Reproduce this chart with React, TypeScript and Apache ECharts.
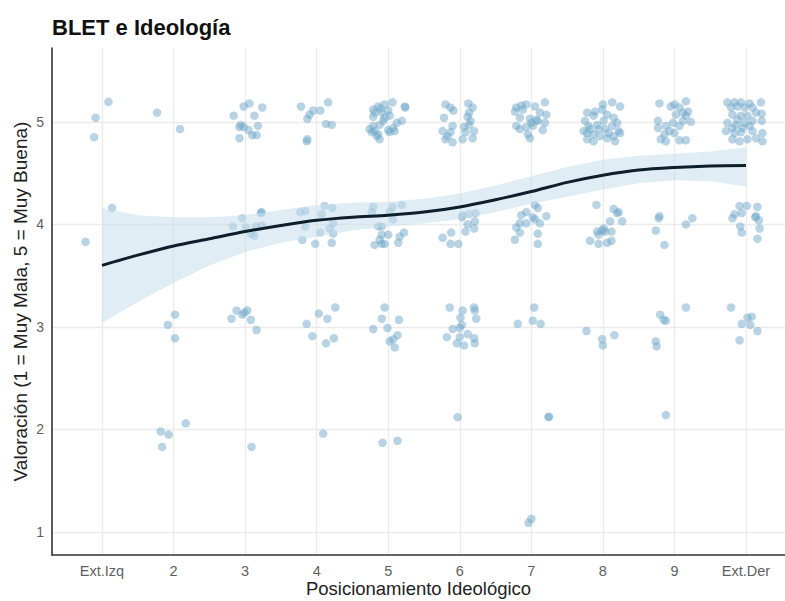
import React, { useEffect, useRef } from "react";
import * as echarts from "echarts";

const categories = ["Ext.Izq", "2", "3", "4", "5", "6", "7", "8", "9", "Ext.Der"];
const yTicks = [1, 2, 3, 4, 5];

// Jittered observations per category: [x offset from category, rating]
const ptsExtIzq = [[0.09, 5.195], [-0.09, 5.04], [-0.11, 4.85], [0.14, 4.16], [-0.23, 3.83]];
const pts2 = [[-0.23, 5.09], [0.09, 4.93], [0.02, 3.12], [-0.08, 3.02], [0.02, 2.89], [-0.18, 1.98], [-0.07, 1.95], [0.17, 2.06], [-0.16, 1.83]];
const pts3 = [[0.06, 5.18], [-0.02, 5.15], [0.24, 5.14], [-0.16, 5.06], [0.13, 5.06], [-0.06, 4.97], [-0.08, 4.95], [0.18, 4.96], [-0.02, 4.95], [0.05, 4.92], [0.1, 4.87], [0.16, 4.87], [-0.08, 4.84],
  [-0.17, 3.98], [-0.04, 4.06], [0.01, 3.97], [0.15, 3.98], [0.23, 3.99], [0.23, 4.12], [0.22, 4.11], [0.13, 3.89], [0.08, 3.91],
  [-0.12, 3.16], [-0.04, 3.12], [0.03, 3.16], [-0.01, 3.14], [-0.19, 3.08], [0.08, 3.07], [0.16, 2.97], [0.09, 1.83]];
const pts4 = [[-0.22, 5.15], [0.16, 5.19], [-0.05, 5.11], [0.05, 5.11], [-0.1, 5.07], [-0.13, 5.03], [0.13, 4.98], [0.21, 4.97], [-0.13, 4.83], [-0.14, 4.81],
  [-0.23, 4.12], [-0.16, 4.13], [0.11, 4.18], [0.22, 4.16], [0.07, 4.1], [0.23, 4.01], [-0.16, 3.98], [0.18, 3.96], [0.05, 3.92], [0.23, 3.91], [-0.2, 3.85], [-0.02, 3.81], [0.21, 3.82],
  [0.26, 3.19], [0.03, 3.13], [0.15, 3.08], [-0.14, 3.03], [-0.06, 2.91], [0.13, 2.84], [0.24, 2.89], [0.09, 1.96]];
const pts5 = [[0.06, 5.19], [-0.05, 5.17], [-0.14, 5.15], [-0.21, 5.12], [0.23, 5.15], [0.24, 5.14], [0.0, 5.11], [-0.19, 5.09], [-0.09, 5.09], [0.02, 5.06], [-0.21, 5.05], [-0.07, 5.01], [-0.12, 4.97], [0.19, 5.01], [0.12, 4.99], [-0.26, 4.93], [-0.19, 4.91], [-0.23, 4.9], [0.0, 4.92], [0.09, 4.91], [0.02, 4.9], [-0.16, 4.86], [-0.12, 4.83], [-0.14, 4.88], [-0.05, 5.04], [-0.11, 5.13], [0.07, 4.94], [-0.21, 4.96],
  [-0.21, 4.17], [0.06, 4.17], [0.19, 4.19], [-0.23, 4.12], [0.02, 4.12], [-0.14, 3.98], [-0.09, 3.98], [0.07, 4.05], [0.0, 3.9], [-0.09, 3.9], [0.22, 3.92], [0.16, 3.88], [-0.19, 3.8], [-0.09, 3.81], [-0.05, 3.81], [0.14, 3.82], [-0.12, 3.85],
  [-0.05, 3.19], [-0.09, 3.08], [0.15, 3.07], [-0.21, 2.98], [-0.01, 2.99], [0.13, 2.92], [0.07, 2.88], [0.02, 2.86], [0.09, 2.8], [-0.08, 1.87], [0.13, 1.89]];
const pts6 = [[-0.2, 5.17], [-0.13, 5.14], [-0.09, 5.11], [0.12, 5.18], [0.18, 5.14], [0.13, 5.09], [-0.22, 5.04], [0.11, 5.05], [-0.1, 4.96], [0.13, 4.97], [0.06, 4.95], [-0.24, 4.91], [-0.13, 4.9], [0.2, 4.91], [-0.2, 4.83], [-0.1, 4.8], [0.04, 4.83], [0.18, 4.84], [-0.17, 4.86], [0.08, 4.9], [0.15, 5.01],
  [0.04, 4.09], [0.13, 4.1], [0.22, 4.11], [0.11, 4.0], [0.21, 4.03], [0.2, 3.96], [0.08, 3.93], [-0.12, 3.92], [-0.24, 3.87], [-0.13, 3.81], [-0.02, 3.81], [0.03, 4.07],
  [-0.14, 3.19], [0.04, 3.16], [0.2, 3.19], [0.21, 3.16], [0.01, 3.09], [0.23, 3.08], [0.03, 3.02], [-0.1, 2.98], [0.0, 2.99], [-0.18, 2.9], [0.0, 2.9], [0.11, 2.93], [-0.04, 2.84], [0.06, 2.82], [0.2, 2.89], [0.21, 2.84], [-0.03, 2.12]];
const pts7 = [[-0.21, 5.14], [-0.14, 5.16], [-0.07, 5.17], [0.05, 5.15], [0.19, 5.19], [-0.23, 5.1], [0.12, 5.09], [0.21, 5.07], [-0.16, 5.04], [-0.02, 5.03], [0.07, 5.02], [-0.21, 4.96], [-0.07, 4.95], [0.0, 4.99], [0.19, 4.99], [0.16, 4.92], [-0.16, 4.93], [-0.05, 4.88], [-0.02, 4.84], [0.09, 5.01], [-0.12, 5.12], [0.02, 4.96],
  [0.05, 4.19], [-0.07, 4.12], [-0.14, 4.09], [0.09, 4.16], [0.21, 4.08], [-0.16, 4.01], [-0.07, 4.01], [0.05, 4.05], [0.12, 4.01], [-0.21, 3.97], [-0.16, 3.92], [-0.23, 3.85], [0.09, 3.91], [0.09, 3.81], [0.02, 4.07],
  [0.04, 3.19], [-0.19, 3.03], [0.02, 3.06], [0.13, 3.03], [0.24, 2.12], [0.245, 2.125], [-0.04, 1.09], [0.0, 1.13]];
const pts8 = [[-0.22, 5.09], [-0.11, 5.1], [0.0, 5.17], [0.13, 5.19], [0.24, 5.15], [-0.25, 5.01], [-0.13, 5.06], [0.06, 5.07], [0.15, 5.04], [0.2, 4.99], [-0.2, 4.96], [-0.08, 4.97], [0.03, 4.93], [0.13, 4.96], [0.22, 4.91], [-0.22, 4.89], [-0.13, 4.88], [-0.04, 4.86], [0.06, 4.84], [0.17, 4.81], [-0.22, 4.83], [-0.13, 4.81], [0.01, 5.01], [-0.01, 5.12], [0.24, 4.89], [-0.18, 4.93], [0.08, 4.89], [0.15, 4.86], [-0.06, 4.93], [-0.27, 4.91],
  [-0.09, 4.19], [0.15, 4.15], [0.2, 4.11], [0.27, 4.03], [0.1, 4.03], [-0.08, 3.93], [-0.01, 3.94], [0.03, 3.93], [0.12, 3.93], [-0.06, 3.9], [-0.18, 3.84], [-0.06, 3.81], [0.06, 3.82], [0.12, 3.84], [0.01, 3.96], [0.22, 4.12],
  [-0.23, 2.96], [-0.01, 2.88], [0.0, 2.82], [0.16, 2.92]];
const pts9 = [[-0.21, 5.18], [0.0, 5.17], [0.16, 5.2], [0.07, 5.14], [-0.05, 5.15], [0.19, 5.1], [0.02, 5.07], [0.16, 5.06], [-0.23, 5.01], [0.12, 5.01], [0.23, 5.0], [-0.02, 4.99], [-0.23, 4.94], [-0.12, 4.96], [0.07, 4.96], [-0.07, 4.91], [0.0, 4.89], [-0.19, 4.83], [-0.12, 4.81], [0.07, 4.82], [0.16, 4.82], [-0.14, 4.88], [0.12, 5.09],
  [-0.21, 4.08], [-0.22, 4.06], [-0.26, 3.94], [-0.14, 3.8], [0.16, 4.0], [0.25, 4.06],
  [-0.2, 3.12], [-0.15, 3.07], [-0.12, 3.06], [-0.26, 2.86], [-0.25, 2.81], [0.16, 3.19], [-0.12, 2.14]];
const ptsExtDer = [[-0.26, 5.19], [-0.16, 5.19], [-0.07, 5.19], [0.05, 5.18], [0.21, 5.19], [-0.21, 5.14], [-0.12, 5.15], [-0.02, 5.14], [0.09, 5.14], [0.22, 5.08], [-0.19, 5.07], [-0.07, 5.06], [0.02, 5.06], [0.09, 5.01], [0.22, 5.01], [-0.26, 4.99], [-0.14, 4.97], [-0.02, 4.99], [0.05, 4.96], [-0.28, 4.91], [-0.16, 4.89], [-0.07, 4.9], [0.09, 4.91], [0.23, 4.89], [-0.19, 4.83], [-0.09, 4.81], [0.02, 4.83], [0.14, 4.84], [0.23, 4.81], [-0.12, 5.02], [0.14, 5.09], [-0.05, 4.94], [-0.19, 4.94],
  [-0.09, 4.18], [0.01, 4.18], [0.16, 4.17], [-0.16, 4.1], [-0.06, 4.11], [-0.19, 4.06], [0.14, 4.08], [0.18, 4.04], [-0.08, 3.98], [-0.06, 3.92], [0.19, 3.96], [0.16, 3.86], [0.13, 4.07],
  [-0.21, 3.19], [0.02, 3.09], [0.08, 3.1], [-0.06, 3.03], [0.06, 3.02], [0.16, 2.96], [-0.09, 2.87]];
const pointsByCategory = [ptsExtIzq, pts2, pts3, pts4, pts5, pts6, pts7, pts8, pts9, ptsExtDer];

// LOESS fit with confidence band
const smoothX = [1, 1.5, 2, 2.5, 3, 3.5, 4, 4.5, 5, 5.5, 6, 6.5, 7, 7.5, 8, 8.5, 9, 9.5, 10];
const smoothFit = [3.6, 3.7, 3.79, 3.86, 3.93, 3.99, 4.04, 4.07, 4.09, 4.12, 4.17, 4.24, 4.32, 4.41, 4.48, 4.53, 4.555, 4.57, 4.575];
const smoothUpper = [4.16, 4.09, 4.07, 4.07, 4.09, 4.14, 4.19, 4.21, 4.22, 4.25, 4.3, 4.38, 4.47, 4.56, 4.63, 4.67, 4.69, 4.71, 4.75];
const smoothLower = [3.04, 3.24, 3.43, 3.6, 3.73, 3.82, 3.88, 3.94, 3.98, 4.01, 4.05, 4.12, 4.2, 4.27, 4.34, 4.4, 4.43, 4.42, 4.37];

const FONT = "'Liberation Sans', Arial, Helvetica, sans-serif";

export default function App() {
  const ref = useRef<HTMLDivElement>(null);
  useEffect(() => {
    if (!ref.current) return;
    const chart = echarts.init(ref.current, undefined, { renderer: "svg" });
    const scatterData: number[][] = [];
    pointsByCategory.forEach((pts, i) => {
      pts.forEach(([dx, y]) => scatterData.push([i + 1 + dx, y]));
    });
    const fitData = smoothX.map((x, i) => [x, smoothFit[i]]);
    const xTickVals = categories.map((_, i) => i + 1);

    chart.setOption({
      animation: false,
      backgroundColor: "#ffffff",
      textStyle: { fontFamily: FONT },
      title: {
        text: "BLET e Ideología",
        left: 47,
        top: 11,
        textStyle: { fontSize: 22, fontWeight: "bold", color: "#111111", fontFamily: FONT },
      },
      grid: { left: 52, right: 0, top: 48, bottom: 46, containLabel: false, outerBoundsMode: "none" },
      xAxis: {
        type: "value",
        min: 0.301,
        max: 10.545,
        name: "Posicionamiento Ideológico",
        nameLocation: "middle",
        nameGap: 24,
        nameMoveOverlap: false,
        nameTextStyle: { fontSize: 18.5, color: "#222222", fontFamily: FONT },
        axisLine: { show: true, onZero: false, lineStyle: { color: "#333333", width: 1.6 } },
        axisTick: { show: false, customValues: xTickVals },
        axisLabel: {
          customValues: xTickVals,
          color: "#5f5f5f",
          fontSize: 14.5,
          margin: 8,
          fontFamily: FONT,
          formatter: (v: number) => categories[Math.round(v) - 1] ?? "",
        },
        splitLine: { show: true, lineStyle: { color: "#ebebeb", width: 1.4 } },
      },
      yAxis: {
        type: "value",
        min: 0.776,
        max: 5.72,
        name: "Valoración (1 = Muy Mala, 5 = Muy Buena)",
        nameLocation: "middle",
        nameGap: 22,
        nameMoveOverlap: false,
        nameTextStyle: { fontSize: 19, color: "#222222", fontFamily: FONT },
        axisLine: { show: true, onZero: false, lineStyle: { color: "#333333", width: 1.6 } },
        axisTick: { show: false, customValues: yTicks },
        axisLabel: { customValues: yTicks, color: "#5f5f5f", fontSize: 14, margin: 8, fontFamily: FONT },
        splitLine: { show: true, lineStyle: { color: "#ebebeb", width: 1.4 } },
      },
      series: [
        {
          type: "scatter",
          data: scatterData,
          symbolSize: 8.5,
          itemStyle: { color: "#6fa8c9", opacity: 0.5 },
          silent: true,
          z: 2,
        },
        {
          type: "custom",
          data: [0],
          silent: true,
          z: 3,
          renderItem: (_params: any, api: any) => {
            const upper = smoothX.map((x, i) => api.coord([x, smoothUpper[i]]));
            const lower = smoothX.map((x, i) => api.coord([x, smoothLower[i]])).reverse();
            return {
              type: "polygon",
              shape: { points: upper.concat(lower) },
              style: { fill: "#c8dfec", opacity: 0.55 },
            };
          },
        },
        {
          type: "line",
          data: fitData,
          smooth: 0.3,
          symbol: "none",
          lineStyle: { color: "#0d1f2b", width: 3 },
          silent: true,
          z: 4,
        },
      ],
    });
    return () => chart.dispose();
  }, []);
  return <div ref={ref} style={{ width: 785, height: 601, position: "absolute", left: 0, top: 0 }} />;
}
